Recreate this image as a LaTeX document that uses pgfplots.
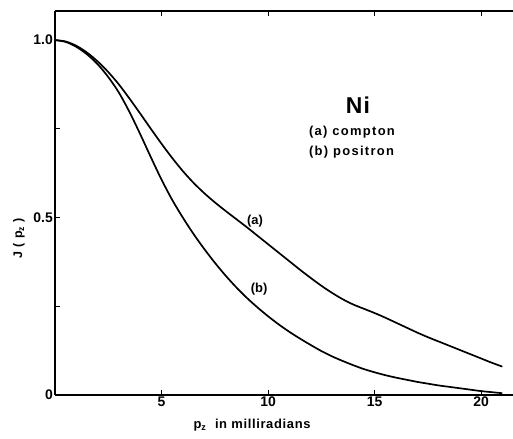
\documentclass[border=0pt]{standalone}
\usepackage{fontspec}
\setmainfont{Liberation Sans}
\usepackage{pgfplots}
\pgfplotsset{compat=1.18}
\begin{document}
\begin{tikzpicture}
\useasboundingbox (0,0) rectangle (513bp,439bp);
\begin{axis}[
  scale only axis, width=458bp, height=384bp,
  at={(55bp,44bp)}, anchor=south west,
  xmin=0, xmax=21.5, ymin=0, ymax=1.082,
  axis x line=box, axis y line=left,
  axis line style={-, line width=1.1bp, black},
  tick align=inside, major tick length=5bp,
  tick style={line width=1bp, black},
  xtick={5,10,15,20}, xticklabels={5,10,15,20},
  ytick={0,0.25,0.5,0.75,1}, yticklabels={0,{},0.5,{},1.0},
  /pgf/number format/assume math mode=true,
  ticklabel style={font=\fontsize{14}{14}\selectfont\bfseries},
  xticklabel style={inner sep=1.5bp},
  yticklabel style={inner sep=2bp},
  clip=false,
]
\addplot[line width=1.7bp, smooth, black] coordinates {
(0,1.0) (0.5,0.996) (1,0.984) (1.5,0.965) (2,0.94) (2.5,0.91) (3,0.875)
(3.5,0.835) (4,0.793) (4.5,0.75) (5,0.708) (5.5,0.668) (6,0.631) (6.5,0.598)
(7,0.569) (7.5,0.543) (8,0.519) (8.5,0.496) (9,0.473) (9.5,0.449) (10,0.425)
(10.5,0.401) (11,0.377) (11.5,0.353) (12,0.33) (12.5,0.308) (13,0.288)
(13.5,0.27) (14,0.255) (14.5,0.243) (15,0.231) (15.5,0.218) (16,0.204)
(16.5,0.19) (17,0.176) (17.5,0.163) (18,0.151) (18.5,0.139) (19,0.127)
(19.5,0.115) (20,0.103) (20.5,0.091) (21,0.08)
};
\addplot[line width=1.7bp, smooth, black] coordinates {
(0,1.0) (0.5,0.995) (1,0.981) (1.5,0.96) (2,0.932) (2.5,0.896) (3,0.852)
(3.5,0.797) (4,0.735) (4.5,0.67) (5,0.607) (5.5,0.55) (6,0.5) (6.5,0.454)
(7,0.412) (7.5,0.373) (8,0.337) (8.5,0.304) (9,0.274) (9.5,0.247) (10,0.222)
(10.5,0.199) (11,0.178) (11.5,0.159) (12,0.141) (12.5,0.124) (13,0.109)
(13.5,0.096) (14,0.084) (14.5,0.073) (15,0.064) (15.5,0.056) (16,0.049)
(16.5,0.043) (17,0.037) (17.5,0.032) (18,0.027) (18.5,0.023) (19,0.019)
(19.5,0.015) (20,0.011) (20.5,0.008) (21,0.005)
};
\node[font=\fontsize{23}{23}\selectfont\bfseries\addfontfeature{LetterSpace=6}] at (axis cs:14.22,0.817) {Ni};
\node[anchor=west, inner sep=0pt, font=\fontsize{13}{13}\selectfont\bfseries\addfontfeature{LetterSpace=10}] at (axis cs:11.92,0.741) {(a) compton};
\node[anchor=west, inner sep=0pt, font=\fontsize{13}{13}\selectfont\bfseries\addfontfeature{LetterSpace=10}] at (axis cs:11.92,0.685) {(b) positron};
\node[font=\fontsize{13}{13}\selectfont\bfseries] at (axis cs:9.39,0.49) {(a)};
\node[font=\fontsize{13}{13}\selectfont\bfseries] at (axis cs:9.58,0.299) {(b)};
\node[anchor=base, font=\fontsize{13}{13}\selectfont\bfseries\addfontfeature{LetterSpace=5}] at (axis cs:9.25,-0.0958) {p\textsubscript{z}\ \ in milliradians};
\node[rotate=90, font=\fontsize{12.5}{12.5}\selectfont\bfseries\addfontfeature{LetterSpace=5}] at (axis cs:-1.69,0.442) {J ( p\textsubscript{z} )};
\end{axis}
\end{tikzpicture}
\end{document}
